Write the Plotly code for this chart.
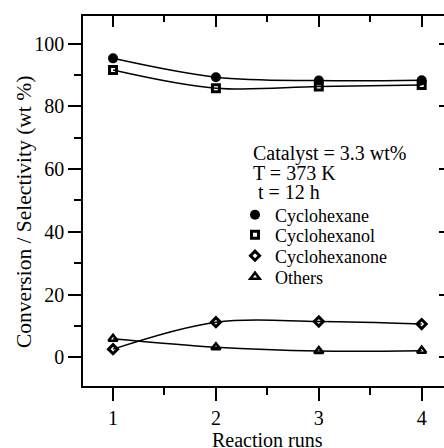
import plotly.graph_objects as go

runs = [1, 2, 3, 4]
cyclohexane = [95.3, 89.3, 88.2, 88.3]
cyclohexanol = [91.6, 85.8, 86.3, 86.8]
cyclohexanone = [2.6, 11.2, 11.4, 10.6]
others = [5.9, 3.2, 2.0, 2.1]

series_names = ["Cyclohexane", "Cyclohexanol", "Cyclohexanone", "Others"]
conditions = ["Catalyst = 3.3 wt%", "T = 373 K", " t = 12 h"]
y_ticks = [0, 20, 40, 60, 80, 100]
x_ticks = [1, 2, 3, 4]

W, H = 444, 448
L, T, B, R = 83, 16, 62, 0
PW, PH = W - L - R, H - T - B


def px(xp):
    return (xp - L) / PW


def py(yp):
    return (H - B - yp) / PH


FONT = "Liberation Serif, Times New Roman, serif"

fig = go.Figure()

styles = [
    dict(symbol="circle", size=10, color="black", line=dict(width=0)),
    dict(symbol="square-open", size=7, color="black", line=dict(width=3, color="black")),
    dict(symbol="diamond-open", size=7, color="black", line=dict(width=3, color="black")),
    dict(symbol="triangle-up-open", size=8, color="black", line=dict(width=2.6, color="black")),
]
data = [cyclohexane, cyclohexanol, cyclohexanone, others]
legends = ["legend", "legend2", "legend3", "legend4"]
legend_y = [215, 235, 256, 277]

# smooth connecting curves
for name, vals in zip(series_names, data):
    fig.add_trace(go.Scatter(
        x=runs, y=vals, name=name, mode="lines", showlegend=False,
        line=dict(color="black", width=1.5, shape="spline", smoothing=1),
        hoverinfo="skip",
    ))
# markers (also shown in the legends)
for name, vals, st, lg in zip(series_names, data, styles, legends):
    fig.add_trace(go.Scatter(
        x=runs, y=vals, name=name, mode="markers",
        marker=st, legend=lg, cliponaxis=False,
    ))

# empty trace to create the mirrored top/right axes
fig.add_trace(go.Scatter(x=[], y=[], xaxis="x2", yaxis="y2", showlegend=False))

legend_common = dict(
    xanchor="left", yanchor="middle", bgcolor="rgba(0,0,0,0)",
    borderwidth=0, font=dict(family=FONT, size=18, color="black"),
    itemwidth=30,
)
layout_legends = {}
for lg, yy in zip(legends, legend_y):
    layout_legends[lg] = dict(x=px(235), y=py(yy), **legend_common)

xr = [0.708, 4.217]
yr = [-9.15, 108.8]

fig.update_layout(
    width=W, height=H,
    margin=dict(l=L, r=R, t=T, b=B, pad=0),
    plot_bgcolor="white", paper_bgcolor="white",
    showlegend=True,
    xaxis=dict(
        range=xr, tickvals=x_ticks, showgrid=False, zeroline=False,
        showline=True, linecolor="black", linewidth=1.5,
        ticks="outside", ticklen=13, tickwidth=1.5, tickcolor="black",
        minor=dict(dtick=0.5, tick0=0.5, ticks="outside", ticklen=7, tickwidth=1.5, tickcolor="black"),
        tickfont=dict(family=FONT, size=20, color="black"),
        ticklabelstandoff=0,
    ),
    xaxis2=dict(
        range=xr, overlaying="x", side="top", anchor="y2",
        tickvals=x_ticks, showticklabels=False, showgrid=False, zeroline=False,
        showline=True, linecolor="black", linewidth=1.5,
        ticks="inside", ticklen=11, tickwidth=1.5, tickcolor="black",
        minor=dict(dtick=0.5, tick0=0.5, ticks="inside", ticklen=6, tickwidth=1.5, tickcolor="black"),
    ),
    yaxis=dict(
        range=yr, tickvals=y_ticks, showgrid=False, zeroline=False,
        showline=True, linecolor="black", linewidth=1.5,
        ticks="outside", ticklen=13, tickwidth=1.5, tickcolor="black",
        minor=dict(dtick=10, tick0=0, ticks="outside", ticklen=7, tickwidth=1.5, tickcolor="black"),
        tickfont=dict(family=FONT, size=20, color="black"),
    ),
    yaxis2=dict(
        range=yr, overlaying="y", side="right", anchor="x2",
        tickvals=y_ticks, showticklabels=False, showgrid=False, zeroline=False,
        showline=False, ticks="inside", ticklen=5, tickwidth=1.5, tickcolor="black",
    ),
    **layout_legends,
)

annotations = [
    dict(text="Conversion / Selectivity (wt %)", x=px(24), y=py(212), xref="paper", yref="paper",
         textangle=-90, showarrow=False, font=dict(family=FONT, size=21.5, color="black"),
         xanchor="center", yanchor="middle"),
    dict(text="Reaction runs", x=px(267), y=py(440), xref="paper", yref="paper",
         showarrow=False, font=dict(family=FONT, size=20, color="black"),
         xanchor="center", yanchor="middle"),
]
for txt, yy in zip(conditions, [153, 173, 192]):
    annotations.append(dict(text=txt, x=px(251), y=py(yy), xref="paper", yref="paper",
                            showarrow=False, font=dict(family=FONT, size=20, color="black"),
                            xanchor="left", yanchor="middle"))
fig.update_layout(annotations=annotations)

fig.write_html("out.html")
